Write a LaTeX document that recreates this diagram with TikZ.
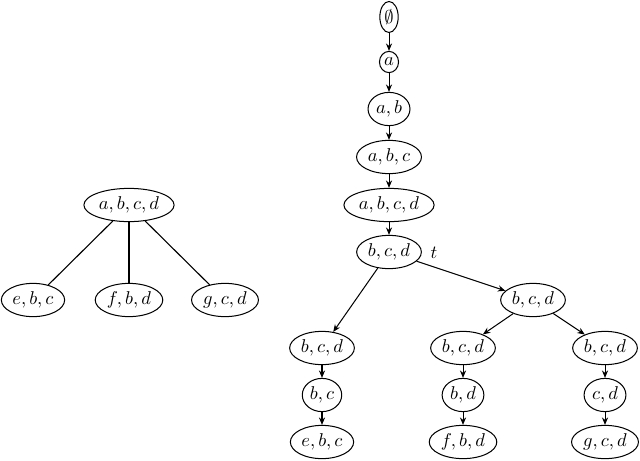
\documentclass[tikz,border=0pt]{standalone}
\usetikzlibrary{shapes.geometric,arrows.meta}
\begin{document}
\begin{tikzpicture}[x=0.54pt,y=-0.54pt,
  st/.style={draw,ellipse,inner xsep=1pt,inner ysep=1.9pt,line width=0.55pt},
  arr/.style={-{Stealth[length=4pt,width=3.3pt]},line width=0.55pt},
  ln/.style={line width=0.6pt}]
\useasboundingbox (0,0) rectangle (640,460);
% left tree
\node[st] (L0) at (129,205) {$a,b,c,d$};
\node[st] (L1) at (33,300) {$e,b,c$};
\node[st] (L2) at (129,300) {$f,b,d$};
\node[st] (L3) at (225,300) {$g,c,d$};
\draw[ln] (L0) -- (L1);
\draw[ln] (L0) -- (L2);
\draw[ln] (L0) -- (L3);
% right tree
\node[st] (n0) at (389,17) {$\emptyset$};
\node[st] (n1) at (389,62) {$a$};
\node[st] (n2) at (389,109) {$a,b$};
\node[st] (n3) at (389,157) {$a,b,c$};
\node[st] (n4) at (389,205) {$a,b,c,d$};
\node[st] (t) at (389,252) {$b,c,d$};
\node (tl) at (434,253) {$t$};
\node[st] (r) at (533,300) {$b,c,d$};
\node[st] (p1) at (322,348) {$b,c,d$};
\node[st] (p2) at (322,395) {$b,c$};
\node[st] (p3) at (322,442) {$e,b,c$};
\node[st] (q1) at (463,348) {$b,c,d$};
\node[st] (q2) at (463,395) {$b,d$};
\node[st] (q3) at (463,442) {$f,b,d$};
\node[st] (s1) at (605,348) {$b,c,d$};
\node[st] (s2) at (605,395) {$c,d$};
\node[st] (s3) at (605,442) {$g,c,d$};
\draw[arr] (n0) -- (n1);
\draw[arr] (n1) -- (n2);
\draw[arr] (n2) -- (n3);
\draw[arr] (n3) -- (n4);
\draw[arr] (n4) -- (t);
\draw[arr] (t) -- (r);
\draw[arr] (t) -- (p1);
\draw[arr] (r) -- (q1);
\draw[arr] (r) -- (s1);
\draw[arr] (p1) -- (p2);
\draw[arr] (p2) -- (p3);
\draw[arr] (q1) -- (q2);
\draw[arr] (q2) -- (q3);
\draw[arr] (s1) -- (s2);
\draw[arr] (s2) -- (s3);
\end{tikzpicture}
\end{document}
